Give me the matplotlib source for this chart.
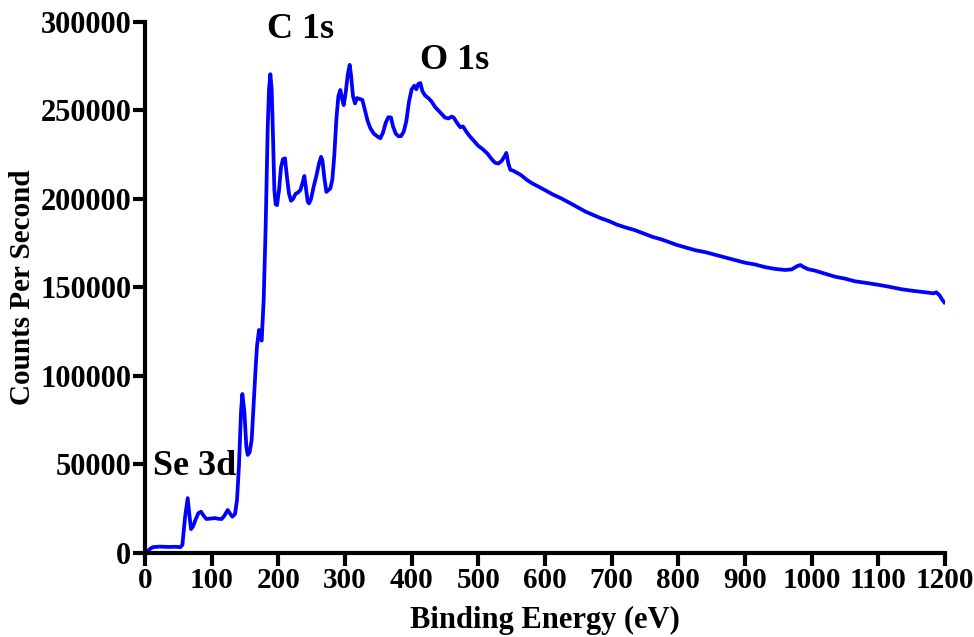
import matplotlib
matplotlib.use('Agg')
import matplotlib.pyplot as plt
from matplotlib.ticker import FuncFormatter

# XPS survey spectrum
energy = [0, 3, 8, 12, 22, 35, 45, 53, 56, 60, 64, 67, 69, 72, 76, 80, 84, 88, 92, 100,
          105, 110, 115, 119, 124, 128, 131, 135, 138, 141, 144, 146, 149, 152, 154, 157,
          160, 163, 166, 168, 171, 173, 175, 178, 181, 184, 186, 188, 190, 192, 194, 196,
          198, 201, 204, 207, 210, 213, 216, 219, 222, 226, 229, 233, 237, 239, 241, 244,
          246, 249, 253, 257, 261, 264, 266, 269, 272, 275, 278, 281, 284, 287, 290, 293,
          296, 298, 301, 304, 307, 309, 312, 315, 318, 322, 326, 330, 334, 338, 343, 348,
          353, 357, 361, 365, 369, 372, 376, 380, 384, 388, 392, 396, 400, 404, 407, 410,
          413, 416, 420, 425, 430, 435, 440, 445, 450, 455, 460, 463, 468, 473, 477, 482,
          487, 493, 500, 507, 514, 520, 525, 530, 535, 540, 542, 545, 548, 552, 557, 564,
          572, 580, 590, 600, 612, 624, 636, 648, 660, 672, 684, 696, 708, 720, 734, 748,
          762, 776, 784, 798, 812, 826, 840, 855, 870, 885, 900, 915, 930, 945, 960, 970,
          978, 983, 988, 995, 1005, 1020, 1035, 1050, 1065, 1085, 1100, 1115, 1135, 1150,
          1165, 1175, 1183, 1187, 1192, 1196, 1199]
counts = [0, 700, 2500, 3300, 3600, 3400, 3500, 3300, 4500, 20000, 31000, 20000, 13500,
          15000, 19000, 22500, 23300, 21000, 19200, 19500, 19700, 19300, 19200, 21000,
          24300, 22000, 20500, 22000, 30000, 50000, 80000, 89800, 80000, 60000, 55400,
          57000, 64000, 85000, 105000, 117000, 126000, 121000, 120000, 143000, 185000,
          240000, 262000, 270500, 262000, 235000, 205000, 197000, 196500, 205000, 218000,
          222500, 223000, 212000, 203000, 199000, 200000, 203000, 203500, 205000, 210000,
          213000, 207000, 198500, 197500, 200000, 207000, 213000, 220000, 223800, 222000,
          212000, 204000, 205000, 206000, 211000, 225000, 245000, 258000, 261600, 256000,
          253000, 260000, 270000, 275800, 270000, 258000, 254000, 257000, 256500, 256000,
          250000, 244000, 240000, 237000, 235500, 234300, 237500, 243000, 246200, 246000,
          241000, 237000, 235500, 235500, 238000, 244000, 255000, 262000, 264000, 262000,
          265000, 265500, 261000, 258500, 257000, 255000, 252000, 250000, 248000, 246000,
          245500, 246500, 246000, 243000, 240500, 241000, 238000, 235500, 233000, 230000,
          228000, 225500, 222500, 220500, 220000, 221500, 224500, 226000, 220000, 216500,
          216000, 215000, 213500, 211000, 209000, 207000, 205000, 202500, 200400, 198000,
          195500, 193000, 191000, 189100, 187500, 185500, 184000, 182500, 180500, 178500,
          177000, 175900, 174000, 172500, 171000, 170000, 168500, 167000, 165500, 164000,
          163000, 161500, 160500, 159900, 160200, 162000, 162700, 161500, 160300, 159500,
          157800, 156100, 155000, 153500, 152400, 151500, 150500, 149000, 148200, 147500,
          147000, 146700, 147300, 145500, 143000, 141600]

peak_labels = ['Se 3d', 'C 1s', 'O 1s']
peak_x = [12, 233, 465]
peak_y = [49000, 295500, 278500]

xticks = list(range(0, 1201, 100))
yticks = list(range(0, 300001, 50000))

plt.rcParams['font.family'] = ['Liberation Serif', 'DejaVu Serif']
plt.rcParams['font.weight'] = 'bold'

fig = plt.figure(figsize=(9.74, 6.37), dpi=100)
ax = fig.add_axes([0.1489, 0.1319, 0.8213, 0.8336])

ax.plot(energy, counts, color='#0000ff', linewidth=2.7)

ax.set_xlim(0, 1200)
ax.set_ylim(0, 300000)
ax.set_xticks(xticks)
ax.set_yticks(yticks)
ax.yaxis.set_major_formatter(FuncFormatter(lambda v, p: f'{int(v)}'))

for s in ['top', 'right']:
    ax.spines[s].set_visible(False)
for s in ['left', 'bottom']:
    ax.spines[s].set_linewidth(3)

ax.tick_params(axis='both', direction='out', length=9, width=3, pad=1)
ax.tick_params(axis='y', labelsize=22)
ax.tick_params(axis='x', labelsize=21)
for lab in ax.get_xticklabels() + ax.get_yticklabels():
    lab.set_fontweight('bold')

ax.set_ylabel('Counts Per Second', fontsize=21, fontweight='bold', labelpad=3)
ax.set_xlabel('Binding Energy (eV)', fontsize=22, fontweight='bold', labelpad=9)

for txt, x, y in zip(peak_labels, peak_x, peak_y):
    ha = 'left' if txt == 'Se 3d' else 'center'
    ax.text(x, y, txt, fontsize=26, fontweight='bold', ha=ha, va='center')

fig.savefig('out.png', dpi=100)
